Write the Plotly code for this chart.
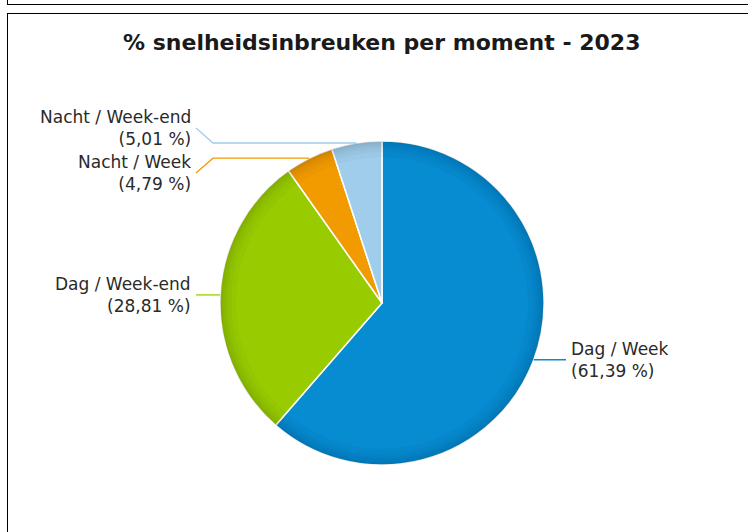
import math
import plotly.graph_objects as go

# ---- data ----
categories = ["Dag / Week", "Dag / Week-end", "Nacht / Week", "Nacht / Week-end"]
values = [61.39, 28.81, 4.79, 5.01]
value_labels = ["61,39 %", "28,81 %", "4,79 %", "5,01 %"]
colors = ["#078bd1", "#99cc00", "#f29b00", "#a0cdec"]
title_text = "% snelheidsinbreuken per moment - 2023"

# ---- geometry (layout) ----
W, H = 748, 532
CX, CY, R = 382, 303, 162


def px(x):
    return x / W


def py(y):
    return 1 - y / H


DOMAIN = dict(x=[px(CX - R), px(CX + R)], y=[py(CY + R), py(CY - R)])

fig = go.Figure()
fig.add_trace(go.Pie(
    labels=categories, values=values, sort=False, direction="clockwise",
    rotation=0, marker=dict(colors=colors, line=dict(color="white", width=1.5)),
    textinfo="none", hoverinfo="label+percent", showlegend=False, domain=DOMAIN,
))
# subtle rim shading
for hole in [0.90, 0.93, 0.95, 0.965, 0.978, 0.988]:
    fig.add_trace(go.Pie(
        values=[1], marker=dict(colors=["rgba(0,0,0,0.025)"], line=dict(width=0)),
        hole=hole, textinfo="none", hoverinfo="skip", showlegend=False, sort=False,
        domain=DOMAIN,
    ))

# ---- labels with connectors ----
total = sum(values)
cum = 0
items = []
for cat, v, lab, col in zip(categories, values, value_labels, colors):
    mid = (cum + v / 2) / total * 2 * math.pi
    cum += v
    ex = CX + R * math.sin(mid)
    ey = CY - R * math.cos(mid)
    items.append(dict(cat=cat, lab=lab, col=col, ex=ex, ey=ey,
                      side="right" if math.sin(mid) > 0 else "left", ly=ey))

MIN_GAP = 45
for side in ("left", "right"):
    grp = sorted([it for it in items if it["side"] == side], key=lambda d: d["ey"])
    changed = True
    while changed:
        changed = False
        for a, b in zip(grp, grp[1:]):
            if b["ly"] - a["ly"] < MIN_GAP - 0.01:
                m = (a["ly"] + b["ly"]) / 2
                a["ly"], b["ly"] = m - MIN_GAP / 2, m + MIN_GAP / 2
                changed = True

shapes = []
annotations = []
for it in items:
    if it["side"] == "left":
        bx, endx, tx, anchor = CX - R - 7, CX - R - 24, CX - R - 27, "right"
    else:
        bx, endx, tx, anchor = CX + R + 7, CX + R + 22, CX + R + 25, "left"
    path = (f"M {px(it['ex'])},{py(it['ey'])} L {px(bx)},{py(it['ey'])} "
            f"L {px(endx)},{py(it['ly'])}")
    shapes.append(dict(type="path", xref="paper", yref="paper", path=path,
                       line=dict(color=it["col"], width=1.3)))
    annotations.append(dict(
        xref="paper", yref="paper", x=px(tx), y=py(it["ly"]),
        xanchor=anchor, yanchor="middle", showarrow=False,
        align="right" if anchor == "right" else "left",
        text=f"{it['cat']}<br>({it['lab']})",
        font=dict(family="DejaVu Sans", size=17, color="#2a2a2a"),
    ))

annotations.append(dict(
    xref="paper", yref="paper", x=px(381), y=py(42), xanchor="center", yanchor="middle",
    showarrow=False, text=f"<b>{title_text}</b>",
    font=dict(family="DejaVu Sans", size=22, color="#1a1a1a"),
))

# frame lines
for x0, y0, x1, y1 in [(7.5, 0, 7.5, 5), (7, 4.5, W, 4.5), (7, 13.5, W, 13.5), (7.5, 13, 7.5, H)]:
    shapes.append(dict(type="line", xref="paper", yref="paper",
                       x0=px(x0), y0=py(y0), x1=px(x1), y1=py(y1),
                       line=dict(color="#000000", width=1)))

fig.update_layout(
    width=W, height=H, margin=dict(l=0, r=0, t=0, b=0),
    paper_bgcolor="white", plot_bgcolor="white",
    shapes=shapes, annotations=annotations,
)
fig.write_html("out.html")
